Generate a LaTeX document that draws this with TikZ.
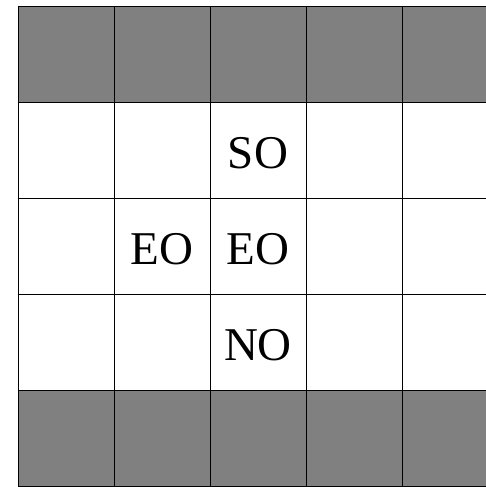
\documentclass[tikz,border=0pt]{standalone}
\usepackage{fontspec}
\setmainfont{Liberation Serif}
\begin{document}
\begin{tikzpicture}[
        x=1pt, y=-1pt,
        cell/.style={draw, line width=1pt, minimum size=96pt, inner sep=0pt, outer sep=0pt},
        wall/.style={cell, fill=black!50},
        free/.style={cell, fill=white},
        tag/.style={font=\fontsize{47}{56}\selectfont, inner sep=0pt, yshift=-2pt}
    ]
        \useasboundingbox (0,0) rectangle (485,487);
        % grey rows on top and bottom, white rows between
        \foreach \c in {0,...,4} {
            \node[wall] (c-0-\c) at (66+96*\c, 54.7) {};
            \foreach \r in {1,2,3}
                \node[free] (c-\r-\c) at (66+96*\c, 54.7+96*\r) {};
            \node[wall] (c-4-\c) at (66+96*\c, 438.7) {};
        }
        \node[tag] (so) at (c-1-2) {SO};
        \node[tag] (eo1) at (c-2-1) {EO};
        \node[tag] (eo2) at (c-2-2) {EO};
        \node[tag] (no) at (c-3-2) {NO};
    \end{tikzpicture}
\end{document}
